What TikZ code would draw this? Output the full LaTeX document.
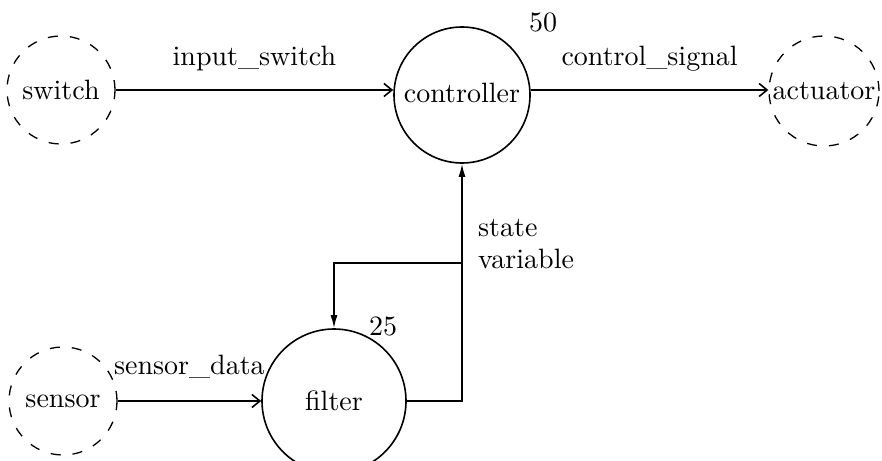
\documentclass[tikz,border=0pt]{standalone}
\usepackage{fontspec}
\setmainfont{lmroman10-regular}[Extension=.otf]
\usetikzlibrary{arrows.meta}
\begin{document}
\begin{tikzpicture}[x=1pt,y=-1pt,
  txt/.style={font=\fontsize{28}{32}\selectfont, inner sep=0pt},
  proc/.style={circle, draw, line width=1.6pt, inner sep=0pt, txt},
  term/.style={circle, draw, line width=1.3pt, dash pattern=on 10pt off 12pt, inner sep=0pt, txt},
  flow/.style={line width=1.6pt, -{Straight Barb[length=8pt,width=13pt,line width=1.6pt]}},
  back/.style={line width=1.6pt, -{Latex[length=13pt,width=7pt]}},
  lbl/.style={txt}
]
\useasboundingbox (0,0) rectangle (882,460);

% processes and terminators
\node[term, minimum size=108pt] (switch)     at (61,90)   {switch};
\node[proc, minimum size=136pt] (controller) at (462,95)  {\raisebox{4pt}{controller}};
\node[term, minimum size=110pt] (actuator)   at (824,91)  {actuator};
\node[term, minimum size=108pt] (sensor)     at (63,401)  {sensor};
\node[proc, minimum size=144pt] (filter)     at (334,401) {filter};

% period annotations
\node[lbl] (p50) at (543,22)  {50};
\node[lbl] (p25) at (383,326) {25};

% data streams
\draw[flow] (switch.east) -- (switch.east -| controller.west)
  node[lbl, midway, above=18pt] (inlbl) {input\_switch};
\draw[flow] (switch.east -| controller.east) -- (actuator.west |- switch.east)
  node[lbl, midway, above=18pt] (outlbl) {control\_signal};
\draw[flow] (sensor.east) -- (filter.west)
  node[lbl, midway, above=22pt] (senslbl) {sensor\_data};

% state variable: filter output to controller, fed back to filter
\coordinate (junction) at (controller.south |- 0,263);
\draw[back] (filter.east) -| (controller.south);
\draw[back] (junction) -| (filter.north);
\node[lbl, anchor=west, align=left] (statelbl) at (478,244) {state\\variable};
\end{tikzpicture}
\end{document}
